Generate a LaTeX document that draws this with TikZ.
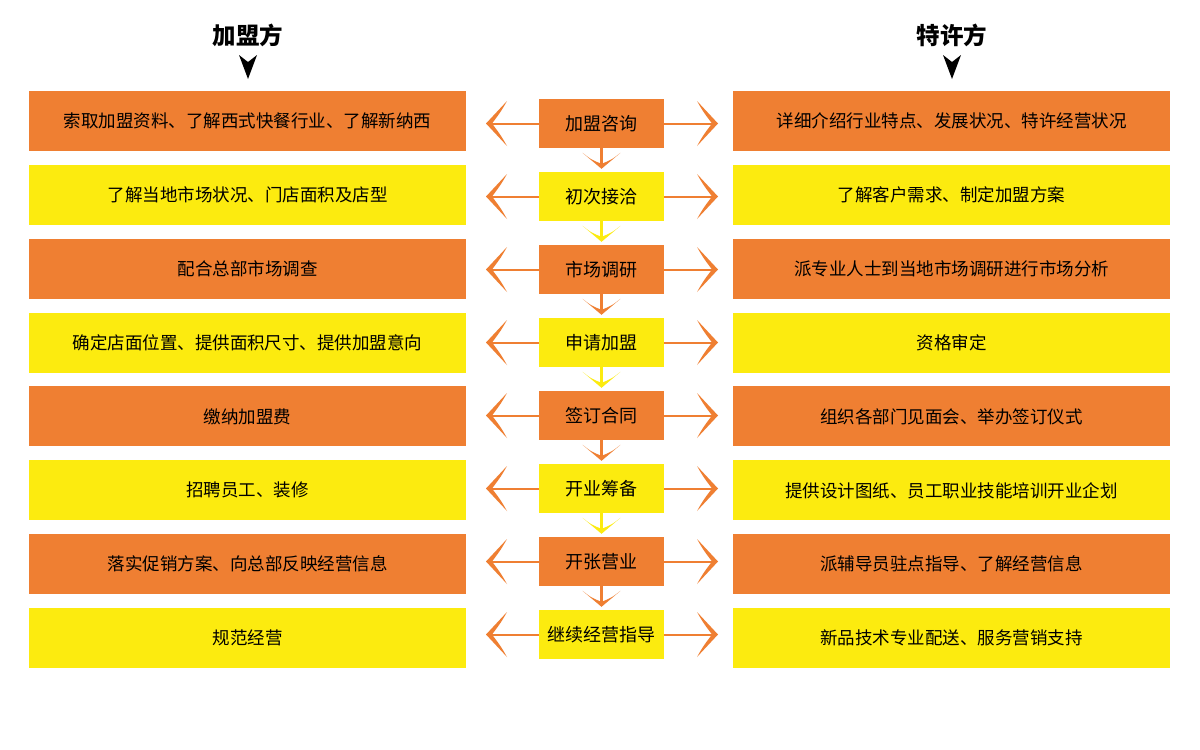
\documentclass[tikz,border=0pt]{standalone}
\usepackage{fontspec}
\setmainfont{Noto Sans CJK SC}
\usetikzlibrary{calc}
\definecolor{org}{HTML}{EF7F32}
\definecolor{ylw}{HTML}{FCEB0F}
\begin{document}
\begin{tikzpicture}[x=1pt,y=-1pt,
  sidebox/.style={minimum width=437pt,minimum height=60pt,inner sep=0pt,font=\fontsize{17.5}{20}\selectfont},
  midbox/.style={minimum width=125pt,minimum height=49pt,inner sep=0pt,font=\fontsize{18}{20}\selectfont},
  title/.style={font=\fontsize{23.5}{26}\selectfont\bfseries},
  hline/.style={draw=org,line width=2pt},
  vline/.style={draw=#1,line width=2.2pt},
  chevl/.pic={\fill[org] (0,0) -- (21,-22.5) .. controls (15,-12) .. (6,0) .. controls (15,12) .. (21,22.5) -- cycle;},
  chevr/.pic={\fill[org] (0,0) -- (-21,-22.5) .. controls (-15,-12) .. (-6,0) .. controls (-15,12) .. (-21,22.5) -- cycle;},
  chevd/.pic={\fill (0,0) -- (-19,-16) .. controls (-10,-9) .. (0,-5) .. controls (10,-9) .. (19,-16) -- cycle;}
]
\useasboundingbox (0,0) rectangle (1200,750);
\fill[white] (0,0) rectangle (1200,750);

\node[title] (tl) at (248,35) {加盟方};
\node[title] (tr) at (952,35) {特许方};
\fill (239,55) -- (248,62) -- (257,55) -- (248,79) -- cycle;
\fill (943,55) -- (952,62) -- (961,55) -- (952,79) -- cycle;

\def\pitch{73.86}
\def\mpitch{73.0}
\foreach \i/\c/\L/\M/\R in {
  0/org/{索取加盟资料、了解西式快餐行业、了解新纳西}/{加盟咨询}/{详细介绍行业特点、发展状况、特许经营状况},
  1/ylw/{了解当地市场状况、门店面积及店型}/{初次接洽}/{了解客户需求、制定加盟方案},
  2/org/{配合总部市场调查}/{市场调研}/{派专业人士到当地市场调研进行市场分析},
  3/ylw/{确定店面位置、提供面积尺寸、提供加盟意向}/{申请加盟}/{资格审定},
  4/org/{缴纳加盟费}/{签订合同}/{组织各部门见面会、举办签订仪式},
  5/ylw/{招聘员工、装修}/{开业筹备}/{提供设计图纸、员工职业技能培训开业企划},
  6/org/{落实促销方案、向总部反映经营信息}/{开张营业}/{派辅导员驻点指导、了解经营信息},
  7/ylw/{规范经营}/{继续经营指导}/{新品技术专业配送、服务营销支持}}
{
  \pgfmathsetmacro{\yy}{121+\i*\pitch}
  \pgfmathsetmacro{\ym}{123.5+\i*\mpitch}
  \node[sidebox,fill=\c] (l\i) at (247.5,\yy) {\L};
  \node[sidebox,fill=\c] (r\i) at (951.5,\yy) {\R};
  \node[midbox,fill=\c] (m\i) at (601.5,\ym) {\M};
  \coordinate (la\i) at (491,\ym);
  \coordinate (ra\i) at (713,\ym);
  \draw[hline] (m\i.west) -- (la\i);
  \draw[hline] (m\i.east) -- (ra\i);
  \pic at (486,\ym) {chevl};
  \pic at (718,\ym) {chevr};
}
\foreach \i/\j/\c in {0/1/org,1/2/ylw,2/3/org,3/4/ylw,4/5/org,5/6/ylw,6/7/org}
{
  \coordinate (d\i) at ($(m\j.north)+(0,-8)$);
  \draw[vline=\c] (m\i.south) -- (d\i);
  \pic[\c] at ($(m\j.north)+(0,-3)$) {chevd};
}
\end{tikzpicture}
\end{document}
